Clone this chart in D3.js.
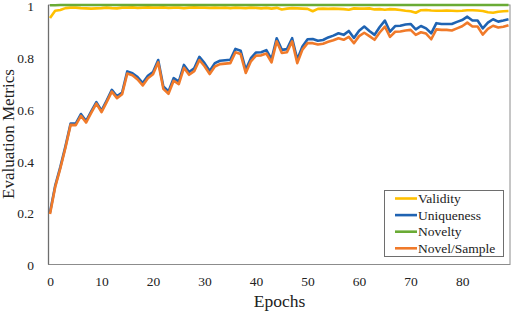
<!DOCTYPE html>
<html>
<head>
<meta charset="utf-8">
<script src="https://cdn.jsdelivr.net/npm/d3@7"></script>
<style>
    body { margin: 0; background: #fff; }
    svg { display: block; }
    svg text { font-family: "Liberation Serif", "Times New Roman", "DejaVu Serif", serif; }
</style>
</head>
<body>
<svg id="chart" width="512" height="312"></svg>
<script>
// epochs 0..89
let epochs = d3.range(0, 90);
let xTicks = [0, 10, 20, 30, 40, 50, 60, 70, 80];
let yTicks = [0, 0.2, 0.4, 0.6, 0.8, 1];

let validity = [
    0.950, 0.978, 0.981, 0.988, 0.990, 0.990, 0.988, 0.987, 0.986, 0.987,
    0.988, 0.990, 0.988, 0.987, 0.990, 0.990, 0.991, 0.989, 0.990, 0.991,
    0.990, 0.990, 0.991, 0.989, 0.990, 0.990, 0.988, 0.990, 0.991, 0.990,
    0.990, 0.989, 0.990, 0.989, 0.990, 0.988, 0.990, 0.989, 0.988, 0.990,
    0.989, 0.987, 0.989, 0.986, 0.989, 0.983, 0.986, 0.988, 0.987, 0.986,
    0.985, 0.976, 0.985, 0.986, 0.985, 0.986, 0.985, 0.984, 0.982, 0.987,
    0.986, 0.986, 0.987, 0.983, 0.984, 0.982, 0.984, 0.983, 0.981, 0.978,
    0.976, 0.970, 0.980, 0.981, 0.979, 0.978, 0.978, 0.979, 0.978, 0.977,
    0.978, 0.980, 0.980, 0.979, 0.977, 0.972, 0.970, 0.974, 0.976, 0.977
];
let uniqueness = [
    0.200, 0.303, 0.375, 0.455, 0.543, 0.543, 0.580, 0.553, 0.590, 0.626,
    0.593, 0.632, 0.673, 0.648, 0.663, 0.744, 0.737, 0.722, 0.699, 0.727,
    0.742, 0.788, 0.686, 0.667, 0.718, 0.705, 0.769, 0.742, 0.756, 0.800,
    0.776, 0.746, 0.776, 0.785, 0.787, 0.789, 0.831, 0.824, 0.750, 0.795,
    0.817, 0.818, 0.826, 0.791, 0.872, 0.827, 0.830, 0.872, 0.790, 0.840,
    0.868, 0.869, 0.862, 0.865, 0.875, 0.882, 0.891, 0.885, 0.900, 0.873,
    0.901, 0.917, 0.900, 0.885, 0.915, 0.940, 0.897, 0.919, 0.920, 0.925,
    0.927, 0.906, 0.919, 0.910, 0.891, 0.930, 0.927, 0.927, 0.927, 0.935,
    0.942, 0.955, 0.940, 0.940, 0.910, 0.932, 0.945, 0.936, 0.940, 0.945
];
let novelty = [
    0.999, 0.999, 1.000, 1.000, 1.000, 1.000, 1.000, 1.000, 1.000, 1.000,
    1.000, 1.000, 1.000, 1.000, 1.000, 1.000, 1.000, 1.000, 1.000, 1.000,
    1.000, 1.000, 1.000, 1.000, 1.000, 1.000, 1.000, 1.000, 1.000, 1.000,
    1.000, 1.000, 1.000, 1.000, 1.000, 1.000, 1.000, 1.000, 1.000, 1.000,
    1.000, 1.000, 1.000, 1.000, 1.000, 1.000, 1.000, 1.000, 1.000, 1.000,
    1.000, 1.000, 1.000, 1.000, 1.000, 1.000, 1.000, 1.000, 1.000, 1.000,
    1.000, 1.000, 1.000, 1.000, 1.000, 1.000, 1.000, 1.000, 1.000, 1.000,
    1.000, 1.000, 1.000, 1.000, 1.000, 1.000, 1.000, 1.000, 1.000, 1.000,
    1.000, 1.000, 1.000, 1.000, 1.000, 1.000, 1.000, 1.000, 1.000, 1.000
];
let novelSample = [
    0.195, 0.298, 0.370, 0.450, 0.538, 0.537, 0.573, 0.547, 0.584, 0.620,
    0.587, 0.626, 0.666, 0.641, 0.656, 0.736, 0.729, 0.713, 0.690, 0.718,
    0.733, 0.779, 0.677, 0.658, 0.708, 0.695, 0.758, 0.731, 0.745, 0.788,
    0.764, 0.734, 0.763, 0.772, 0.774, 0.776, 0.818, 0.811, 0.738, 0.783,
    0.805, 0.806, 0.813, 0.779, 0.860, 0.815, 0.818, 0.860, 0.776, 0.828,
    0.853, 0.853, 0.848, 0.851, 0.858, 0.864, 0.872, 0.866, 0.877, 0.853,
    0.880, 0.893, 0.880, 0.866, 0.894, 0.917, 0.877, 0.897, 0.898, 0.902,
    0.904, 0.885, 0.895, 0.890, 0.868, 0.906, 0.904, 0.904, 0.902, 0.910,
    0.918, 0.932, 0.917, 0.917, 0.886, 0.908, 0.920, 0.913, 0.916, 0.922
];

let seriesNames = ["Validity", "Uniqueness", "Novelty", "Novel/Sample"];
let seriesColors = ["#ffc000", "#1f63b2", "#6aab35", "#f07a2a"];
let seriesValues = [validity, uniqueness, novelty, novelSample];

let serif = "'Liberation Serif', 'Times New Roman', 'DejaVu Serif', serif";

let svg = d3.select("#chart");

let plot = {left: 48.5, right: 510, top: 5, bottom: 264.5};

let xScale = d3.scaleLinear()
    .domain([0, 89])
    .range([50, 508.5]);
let yScale = d3.scaleLinear()
    .domain([0, 1])
    .range([plot.bottom, plot.top]);

// plot area frame
svg.append("rect")
    .attr("x", plot.left)
    .attr("y", plot.top)
    .attr("width", plot.right - plot.left)
    .attr("height", plot.bottom - plot.top)
    .attr("fill", "none")
    .attr("stroke", "#8c8c8c")
    .attr("stroke-width", 1);

// axes (labels only)
let xAxis = d3.axisBottom(xScale)
    .tickValues(xTicks)
    .tickSize(0)
    .tickPadding(0)
    .tickFormat(d3.format("d"));
let gx = svg.append("g")
    .attr("class", "x-axis axis")
    .attr("transform", "translate(0," + 276 + ")")
    .call(xAxis);
gx.attr("font-family", null);
gx.select(".domain").remove();
gx.selectAll("text")
    .attr("dy", "0.71em")
    .style("font-family", serif)
    .style("font-size", "13.5px")
    .attr("fill", "#222");

let yAxis = d3.axisLeft(yScale)
    .tickValues(yTicks)
    .tickSize(0)
    .tickPadding(0)
    .tickFormat(d => d === 0 || d === 1 ? d3.format("d")(d) : d3.format(".1f")(d));
let gy = svg.append("g")
    .attr("class", "y-axis axis")
    .attr("transform", "translate(34,1)")
    .call(yAxis);
gy.attr("font-family", null);
gy.select(".domain").remove();
gy.selectAll("text")
    .style("font-family", serif)
    .style("font-size", "13.5px")
    .attr("fill", "#222");

// left axis line a bit darker
svg.append("line")
    .attr("x1", plot.left).attr("x2", plot.left)
    .attr("y1", plot.top).attr("y2", plot.bottom)
    .attr("stroke", "#6e6e6e")
    .attr("stroke-width", 1.3);

// axis titles
svg.append("text")
    .text("Epochs")
    .attr("x", 279.5)
    .attr("y", 307)
    .attr("text-anchor", "middle")
    .style("font-family", serif)
    .style("font-size", "17.5px")
    .attr("fill", "#222");
svg.append("text")
    .text("Evaluation Metrics")
    .attr("transform", "translate(14,134) rotate(-90)")
    .attr("text-anchor", "middle")
    .style("font-family", serif)
    .style("font-size", "17px")
    .attr("fill", "#222");

// lines
let line = d3.line()
    .x((d, i) => xScale(epochs[i]))
    .y(d => yScale(d));

let linesGroup = svg.append("g").attr("class", "lines");
linesGroup.selectAll("path")
    .data(seriesValues)
    .enter().append("path")
    .attr("d", d => line(d))
    .attr("fill", "none")
    .attr("stroke", (d, i) => seriesColors[i])
    .attr("stroke-width", 2.6)
    .attr("stroke-linejoin", "round");

// legend
let legend = svg.append("g").attr("class", "legend");
legend.append("rect")
    .attr("x", 384.5)
    .attr("y", 190.5)
    .attr("width", 119)
    .attr("height", 66)
    .attr("fill", "#fff")
    .attr("stroke", "#6e6e6e")
    .attr("stroke-width", 1);

let rows = legend.selectAll(".row")
    .data(seriesNames)
    .enter().append("g")
    .attr("class", "row")
    .attr("transform", (d, i) => `translate(0, ${198.5 + i * 16.6})`);
rows.append("line")
    .attr("x1", 395).attr("x2", 417)
    .attr("y1", 0).attr("y2", 0)
    .attr("stroke", (d, i) => seriesColors[i])
    .attr("stroke-width", 2.6);
rows.append("text")
    .text(d => d)
    .attr("x", 418)
    .attr("y", 0)
    .attr("dy", "0.33em")
    .style("font-family", serif)
    .style("font-size", "13.5px")
    .attr("fill", "#222");
</script>
</body>
</html>
